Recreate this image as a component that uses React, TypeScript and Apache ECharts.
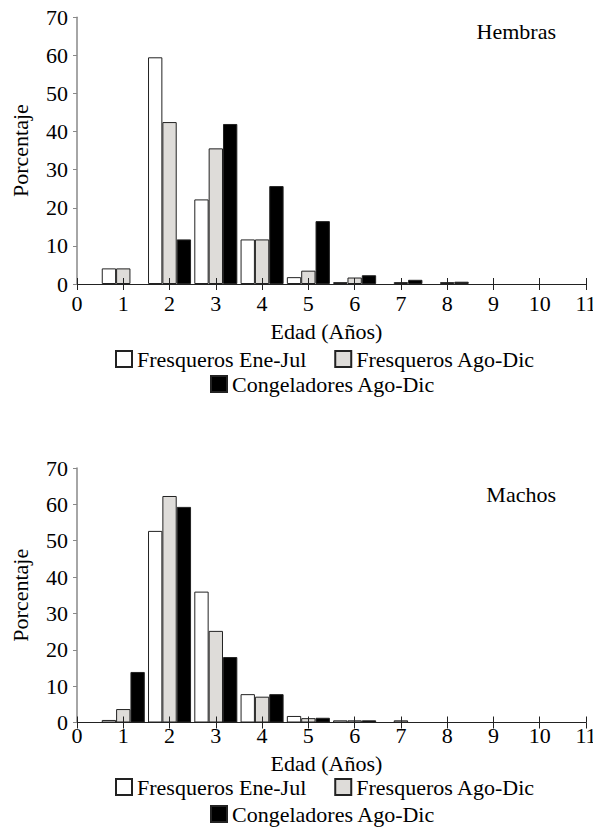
import React, { useEffect, useRef } from 'react';
import * as echarts from 'echarts';

const FONT = '"Liberation Serif", "Times New Roman", serif';

const ages = [1, 2, 3, 4, 5, 6, 7, 8];
const seriesNames = ['Fresqueros Ene-Jul', 'Fresqueros Ago-Dic', 'Congeladores Ago-Dic'];
const seriesColors = ['#ffffff', '#dedcd9', '#000000'];

// Hembras (females)
const hembrasEneJul = [4.1, 59.5, 22.2, 11.7, 1.8, 0.5, null, null];
const hembrasAgoDic = [4.1, 42.5, 35.6, 11.7, 3.5, 1.7, 0.5, 0.5];
const hembrasCongAgoDic = [null, 11.7, 42.0, 25.7, 16.5, 2.3, 1.1, 0.6];

// Machos (males)
const machosEneJul = [0.7, 52.7, 36.0, 7.8, 1.8, 0.6, null, null];
const machosAgoDic = [3.7, 62.3, 25.2, 7.1, 1.2, 0.6, 0.6, null];
const machosCongAgoDic = [13.9, 59.3, 18.0, 7.8, 1.3, 0.6, null, null];

const panelTitles = ['Hembras', 'Machos'];
const xAxisName = 'Edad (Años)';
const yAxisName = 'Porcentaje';

const panels = [
  [hembrasEneJul, hembrasAgoDic, hembrasCongAgoDic],
  [machosEneJul, machosAgoDic, machosCongAgoDic],
];

function toPairs(vals: (number | null)[]) {
  const out: [number, number][] = [];
  vals.forEach((v, i) => {
    if (v !== null) out.push([ages[i], v]);
  });
  return out;
}

export default function App() {
  const ref = useRef<HTMLDivElement>(null);
  useEffect(() => {
    if (!ref.current) return;
    const chart = echarts.init(ref.current, null, { renderer: 'svg' });

    const gridTops = [17.3, 468];
    const gridHeights = [266.7, 254.5];
    const labelMargins = [8, 2];
    const nameGaps = [36, 30];

    const xAxes: any[] = [];
    const yAxes: any[] = [];
    const series: any[] = [];
    [0, 1].forEach((g) => {
      xAxes.push({
        type: 'value',
        gridIndex: g,
        min: 0,
        max: 11,
        interval: 1,
        position: 'bottom',
        axisLine: { show: true, lineStyle: { color: '#222', width: 1 } },
        axisTick: { show: true, length: 6, lineStyle: { color: '#222', width: 1 } },
        axisLabel: { margin: labelMargins[g], fontSize: 22, color: '#000', fontFamily: FONT },
        splitLine: { show: false },
        name: xAxisName,
        nameLocation: 'middle',
        nameGap: nameGaps[g],
        nameTextStyle: { fontSize: 22, color: '#000', fontFamily: FONT, padding: [0, 10, 0, 0] },
      });
    });
    [0, 1].forEach((g) => {
      xAxes.push({
        type: 'value',
        gridIndex: g,
        min: 0,
        max: 11,
        interval: 1,
        position: 'bottom',
        z: 10,
        axisLine: { show: false },
        axisTick: { show: true, inside: true, length: 6, lineStyle: { color: '#222', width: 1 } },
        axisLabel: { show: false },
        splitLine: { show: false },
      });
    });
    [0, 1].forEach((g) => {
      yAxes.push({
        type: 'value',
        gridIndex: g,
        min: 0,
        max: 70,
        interval: 10,
        axisLine: { show: true, lineStyle: { color: '#888', width: 1.5 } },
        axisTick: { show: true, length: 4, lineStyle: { color: '#888', width: 1 } },
        axisLabel: { margin: 9, fontSize: 22, color: '#000', fontFamily: FONT },
        splitLine: { show: false },
        name: yAxisName,
        nameLocation: 'middle',
        nameGap: 46,
        nameTextStyle: { fontSize: 22, color: '#000', fontFamily: FONT },
      });
      panels[g].forEach((vals, s) => {
        series.push({
          type: 'bar',
          name: seriesNames[s],
          xAxisIndex: g,
          yAxisIndex: g,
          barWidth: '31%',
          barGap: '0%',
          itemStyle: { color: seriesColors[s], borderColor: '#222', borderWidth: 1 },
          data: toPairs(vals),
        });
      });
    });

    const legendBase = {
      orient: 'horizontal',
      icon: 'rect',
      itemWidth: 16,
      itemHeight: 16,
      itemGap: 28,
      selectedMode: false,
      textStyle: { fontSize: 22, color: '#000', fontFamily: FONT },
    };

    chart.setOption({
      animation: false,
      backgroundColor: '#fff',
      textStyle: { fontFamily: FONT },
      title: [
        { text: panelTitles[0], right: 32, top: 15, textStyle: { fontSize: 22, fontWeight: 'normal', color: '#000', fontFamily: FONT } },
        { text: panelTitles[1], right: 32, top: 478, textStyle: { fontSize: 22, fontWeight: 'normal', color: '#000', fontFamily: FONT } },
      ],
      legend: [
        { ...legendBase, left: 110, top: 343, data: [seriesNames[0], seriesNames[1]] },
        { ...legendBase, left: 205, top: 368, data: [seriesNames[2]] },
        { ...legendBase, left: 110, top: 771, data: [seriesNames[0], seriesNames[1]] },
        { ...legendBase, left: 205, top: 798, data: [seriesNames[2]] },
      ],
      grid: [
        { left: 77, right: 7, top: gridTops[0], height: gridHeights[0], containLabel: false, outerBoundsMode: 'none' },
        { left: 77, right: 7, top: gridTops[1], height: gridHeights[1], containLabel: false, outerBoundsMode: 'none' },
      ],
      xAxis: xAxes,
      yAxis: yAxes,
      series,
    });

    return () => chart.dispose();
  }, []);

  return (
    <div
      ref={ref}
      style={{ position: 'absolute', left: 0, top: 0, width: 593, height: 837, background: '#fff' }}
    />
  );
}
